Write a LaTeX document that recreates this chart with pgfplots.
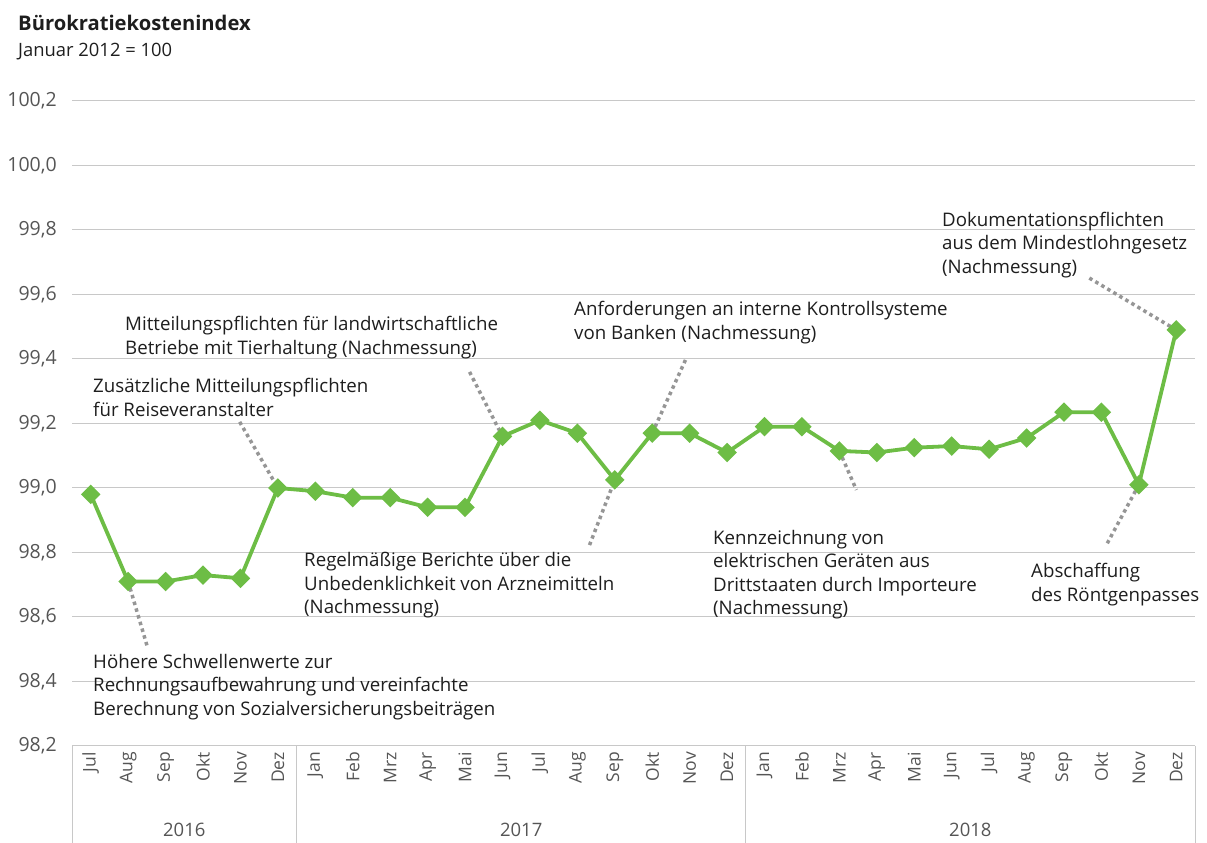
\documentclass[border=0pt]{standalone}
\usepackage{fontspec}
\setmainfont{Open Sans}
\usepackage{pgfplots}
\pgfplotsset{compat=1.18}
\definecolor{lgreen}{RGB}{109,189,69}
\definecolor{gridc}{RGB}{200,200,200}
\definecolor{dotc}{RGB}{150,150,150}
\definecolor{tickc}{RGB}{85,85,85}
\definecolor{txt}{RGB}{30,30,30}
\newcommand{\annfont}{\fontsize{18.7}{23.5}\selectfont}
\begin{document}
\begin{tikzpicture}[x=1pt,y=1pt]
\useasboundingbox (0,0) rectangle (1207,843);
\begin{axis}[at={(72pt,97pt)}, anchor=south west, scale only axis,
  width=1123pt, height=645pt,
  xmin=-0.5, xmax=29.5, ymin=98.2, ymax=100.2,
  ytick={98.2,98.4,98.6,98.8,99.0,99.2,99.4,99.6,99.8,100.0,100.2},
  ymajorgrids, grid style={gridc, line width=1pt},
  axis line style={draw=none}, major tick length=0pt,
  xtick={0,...,29},
  xticklabels={Jul,Aug,Sep,Okt,Nov,Dez,Jan,Feb,Mrz,Apr,Mai,Jun,Jul,Aug,Sep,Okt,Nov,Dez,Jan,Feb,Mrz,Apr,Mai,Jun,Jul,Aug,Sep,Okt,Nov,Dez},
  xticklabel style={yshift=-6pt, rotate=90, anchor=east, inner sep=0pt, font=\fontsize{17.5}{17.5}\selectfont, text=tickc},
  yticklabel style={anchor=east, inner sep=0pt, xshift=-15pt, font=\fontsize{19.5}{19.5}\selectfont, text=tickc,
    /pgf/number format/.cd, fixed, fixed zerofill, precision=1, use comma},
  /pgf/number format/assume math mode=true,
  clip=false]
% year box
\draw[gridc, line width=1pt] (axis cs:-0.5,98.2) -- ++(0pt,-97pt);
\draw[gridc, line width=1pt] (axis cs:5.5,98.2) -- ++(0pt,-97pt);
\draw[gridc, line width=1pt] (axis cs:17.5,98.2) -- ++(0pt,-97pt);
\draw[gridc, line width=1pt] (axis cs:29.5,98.2) -- ++(0pt,-97pt);
\node[text=tickc, font=\fontsize{18.5}{18.5}\selectfont] at (axis cs:2.5,98.2) [yshift=-84pt] {2016};
\node[text=tickc, font=\fontsize{18.5}{18.5}\selectfont] at (axis cs:11.5,98.2) [yshift=-84pt] {2017};
\node[text=tickc, font=\fontsize{18.5}{18.5}\selectfont] at (axis cs:23.5,98.2) [yshift=-84pt] {2018};
% leaders
\begin{scope}[dotc, line width=3.5pt, dash pattern=on 3.5pt off 3.5pt]
\draw (axis cs:1,98.71) -- (axis cs:1.522,98.504);
\draw (axis cs:3.979,99.205) -- (axis cs:5,99.0);
\draw (axis cs:10.12,99.36) -- (axis cs:11,99.16);
\draw (axis cs:13.325,98.823) -- (axis cs:14,99.025);
\draw (axis cs:15.889,99.397) -- (axis cs:15,99.17);
\draw (axis cs:20,99.115) -- (axis cs:20.455,98.994);
\draw (axis cs:26.677,99.651) -- (axis cs:29,99.49);
\draw (axis cs:28,99.01) -- (axis cs:27.131,98.823);
\end{scope}
\addplot[lgreen, line width=3.8pt, mark=square*, mark size=5pt, mark options={rotate=45, solid}] coordinates {
(0,98.98) (1,98.71) (2,98.71) (3,98.73) (4,98.72) (5,99.00)
(6,98.99) (7,98.97) (8,98.97) (9,98.94) (10,98.94) (11,99.16)
(12,99.21) (13,99.17) (14,99.025) (15,99.17) (16,99.17) (17,99.11)
(18,99.19) (19,99.19) (20,99.115) (21,99.11) (22,99.125) (23,99.13)
(24,99.12) (25,99.155) (26,99.235) (27,99.235) (28,99.01) (29,99.49)
};
\end{axis}
% titles
\node[anchor=west, inner sep=0pt, font=\fontsize{20.2}{20.2}\selectfont\bfseries, text=txt] at (18,843-23) {Bürokratiekostenindex};
\node[anchor=west, inner sep=0pt, font=\fontsize{18.4}{18.4}\selectfont, text=txt] at (18,843-52) {Januar 2012 = 100};
% annotations
\begin{scope}[every node/.style={anchor=north west, inner sep=0pt, align=left, font=\annfont, text=txt}]
\node at (93,843-654) {Höhere Schwellenwerte zur\\Rechnungsaufbewahrung und vereinfachte\\Berechnung von Sozialversicherungsbeiträgen};
\node at (93,843-378) {Zusätzliche Mitteilungspflichten\\für Reiseveranstalter};
\node at (125,843-316) {Mitteilungspflichten für landwirtschaftliche\\Betriebe mit Tierhaltung (Nachmessung)};
\node at (304,843-552) {Regelmäßige Berichte über die\\Unbedenklichkeit von Arzneimitteln\\(Nachmessung)};
\node at (574,843-301) {Anforderungen an interne Kontrollsysteme\\von Banken (Nachmessung)};
\node at (713,843-530) {Kennzeichnung von\\elektrischen Geräten aus\\Drittstaaten durch Importeure\\(Nachmessung)};
\node at (942,843-212) {Dokumentationspflichten\\aus dem Mindestlohngesetz\\(Nachmessung)};
\node at (1031,843-563) {Abschaffung\\des Röntgenpasses};
\end{scope}
\end{tikzpicture}
\end{document}
